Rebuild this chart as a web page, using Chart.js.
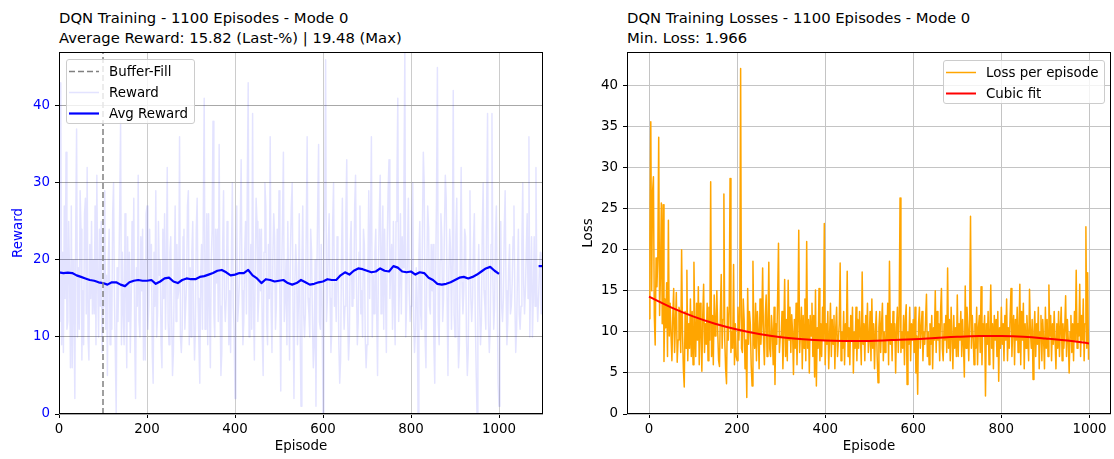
<!DOCTYPE html>
<html>
<head>
<meta charset="utf-8">
<title>DQN Training - 1100 Episodes - Mode 0</title>
<script src="https://cdn.jsdelivr.net/npm/chart.js@4.4.1/dist/chart.umd.min.js"></script>
<style>
  body { margin: 0; background: #fff; font-family: "DejaVu Sans", sans-serif; }
  #wrap { position: relative; width: 1114px; height: 459px; overflow: hidden; }
  .titulo { position: absolute; top: 8px; font-size: 14.8px; line-height: 20px; color: #000; white-space: nowrap; }
  canvas { position: absolute; top: 48px; }
  .leyenda { position: absolute; background: rgba(255,255,255,0.8); border: 1px solid #cccccc; border-radius: 3px;
             box-sizing: border-box; padding-top: 1px; font-size: 13.4px; color: #000; }
  .leyenda .fila { height: 21px; display: flex; align-items: center; white-space: nowrap; }
  .leyenda svg { margin-left: 2px; margin-right: 10px; flex: none; }
</style>
</head>
<body>
<div id="wrap">
  <div class="titulo" style="left:59px">DQN Training - 1100 Episodes - Mode 0<br>Average Reward: 15.82 (Last-%) | 19.48 (Max)</div>
  <div class="titulo" style="left:627px">DQN Training Losses - 1100 Episodes - Mode 0<br>Min. Loss: 1.966</div>
  <canvas id="graficoRecompensa" width="557" height="411" style="left:0"></canvas>
  <canvas id="graficoPerdida" width="557" height="411" style="left:557px"></canvas>
  <div id="leyendaRecompensa" class="leyenda" style="left:66px; top:59px; width:129px; height:65px"></div>
  <div id="leyendaPerdida" class="leyenda" style="left:943px; top:60px; width:162px; height:44px"></div>
</div>
<script>
// Reward per episode, one value every 2 episodes (0 .. 1098), one row = 100 episodes
const REWARD_STEP = 2;
const rewards = [
  26, 12, 43, 9, 21, 8, 27, 15, 34, 11, 12, 25, 18, 6, 27, 6, 20, 13, 2, 24, 37, 10, 19, 11, 29, 24, 7, 16, 9, 26, 28, 13, 32, 10, 7, 22, 15, 25, 13, 20, 13, 27, 9, 31, 17, 10, 24, 14, 25, 8,
  14, 22, 29, 11, 18, 5, 20, 24, 9, 17, 11, 26, 30, 15, 8, 0, 19, 12, 18, 27, 38, 9, 21, 13, 9, 26, 16, 6, 23, 12, 21, 8, 14, 25, 17, 28, 10, 2, 19, 14, 31, 12, 10, 23, 16, 24, 7, 20, 7, 26,
  27, 11, 14, 24, 17, 22, 8, 4, 21, 14, 29, 10, 13, 25, 18, 20, 9, 6, 24, 15, 26, 11, 19, 32, 12, 9, 21, 23, 13, 5, 8, 18, 27, 12, 22, 15, 16, 36, 10, 8, 11, 23, 24, 11, 14, 17, 27, 29, 9, 19,
  10, 21, 25, 13, 7, 11, 24, 28, 15, 9, 4, 18, 22, 11, 26, 41, 11, 16, 26, 9, 26, 14, 6, 20, 24, 38, 13, 10, 24, 17, 24, 12, 35, 14, 5, 8, 22, 29, 15, 12, 15, 25, 22, 9, 16, 8, 21, 30, 14, 11,
  2, 19, 27, 12, 14, 17, 25, 33, 16, 9, 12, 21, 25, 13, 30, 43, 10, 17, 22, 11, 39, 14, 7, 19, 28, 25, 12, 15, 24, 16, 24, 10, 5, 21, 30, 27, 12, 9, 22, 15, 36, 14, 8, 20, 26, 23, 11, 14, 24, 17,
  29, 14, 3, 18, 25, 34, 12, 15, 20, 9, 25, 16, 7, 21, 27, 30, 13, 2, 17, 22, 19, 9, 14, 26, 11, 1, 19, 27, 13, 10, 13, 24, 36, 15, 13, 10, 24, 21, 12, 6, 9, 20, 1, 18, 27, 35, 12, 11, 22, 14,
  0, 21, 28, 46, 12, 15, 22, 26, 15, 8, 11, 25, 30, 14, 17, 12, 23, 20, 9, 4, 7, 20, 28, 16, 11, 14, 26, 33, 13, 7, 10, 22, 25, 14, 18, 15, 27, 31, 17, 9, 12, 21, 27, 13, 16, 10, 24, 22, 10, 6,
  9, 19, 29, 15, 24, 36, 10, 18, 13, 21, 24, 13, 5, 19, 26, 31, 13, 20, 27, 11, 24, 16, 8, 22, 29, 33, 15, 19, 22, 11, 25, 14, 9, 25, 30, 41, 12, 17, 26, 13, 23, 19, 30, 47, 10, 14, 21, 28, 16, 12,
  14, 24, 30, 12, 8, 11, 19, 15, 0, 21, 25, 13, 11, 24, 34, 30, 10, 6, 19, 27, 24, 14, 13, 22, 16, 22, 9, 4, 18, 28, 45, 12, 9, 20, 26, 23, 12, 15, 24, 31, 28, 15, 5, 18, 24, 21, 11, 20, 42, 13,
  10, 23, 28, 14, 6, 9, 21, 32, 17, 13, 16, 24, 23, 10, 5, 8, 20, 29, 15, 12, 15, 22, 26, 13, 6, 0, 17, 22, 14, 9, 12, 24, 30, 16, 14, 11, 27, 39, 12, 8, 11, 22, 39, 18, 11, 14, 23, 27, 15, 4,
  1, 18, 25, 14, 12, 15, 24, 29, 16, 9, 12, 19, 22, 13, 14, 17, 23, 27, 15, 8, 11, 18, 24, 13, 11, 14, 22, 30, 17, 13, 16, 21, 26, 15, 36, 10, 17, 23, 10, 15, 23, 14, 32, 16, 12, 15, 19, 21, 13, 21
];

// Moving average reward, one value every 10 episodes (0 .. 1000)
const AVG_STEP = 10;
const avgRewards = [
  18.4, 18.3, 18.35, 18.3, 18.0, 17.8, 17.6, 17.4, 17.3, 17.1,
  17.0, 16.8, 17.1, 17.1, 16.8, 16.6, 17.1, 17.3, 17.4, 17.3,
  17.3, 17.4, 16.9, 17.2, 17.6, 17.7, 17.2, 17.0, 17.4, 17.6,
  17.5, 17.5, 17.8, 17.9, 18.1, 18.3, 18.6, 18.7, 18.4, 18.0,
  18.1, 18.3, 18.3, 18.7, 18.0, 17.6, 17.0, 17.5, 17.4, 17.2,
  17.3, 17.4, 17.0, 16.8, 17.0, 17.4, 17.1, 16.8, 16.9, 17.1,
  17.2, 17.5, 17.4, 17.4, 18.0, 18.4, 18.1, 18.6, 18.9, 18.8,
  18.6, 18.4, 18.5, 18.9, 18.6, 18.5, 19.2, 19.0, 18.5, 18.4,
  18.5, 18.1, 18.4, 18.3, 17.7, 17.4, 16.9, 16.8, 16.9, 17.1,
  17.4, 17.7, 17.8, 17.6, 17.8, 18.1, 18.5, 18.9, 19.1, 18.6,
  18.2
];
// short piece of the average at the very end of the run
const avgTailEpisodes = [1090, 1099];
const avgTail = [19.2, 19.2];

const bufferFillEpisode = 100;

// Loss per episode, one value every 2 episodes (0 .. 998), one row = 100 episodes
const LOSS_STEP = 2;
const losses = [
  11.6, 21.4, 35.6, 15.0, 27.0, 28.9, 12.0, 8.4, 19.0, 15.5, 19.2, 33.7, 12.0, 17.0, 25.7, 11.0, 25.5, 6.4, 14.0, 10.5,
  16.0, 7.0, 23.6, 9.5, 13.5, 9.5, 6.5, 12.0, 15.3, 7.5, 11.0, 14.8, 6.3, 9.0, 13.0, 12.5, 7.5, 20.0, 10.0, 5.5,
  3.3, 12.5, 8.0, 17.5, 6.5, 11.0, 8.0, 14.0, 7.0, 12.5,
  6.0, 18.5, 10.5, 7.0, 13.5, 9.0, 15.5, 6.0, 13.5, 10.0, 5.2, 12.0, 15.8, 7.5, 11.0, 8.5, 13.5, 6.5, 13.0, 9.0,
  28.3, 7.0, 12.0, 6.0, 14.5, 9.5, 11.0, 15.0, 10.0, 6.5, 5.8, 12.5, 17.0, 8.0, 11.5, 26.8, 9.0, 5.5, 3.7, 13.0,
  9.0, 12.5, 28.7, 7.5, 10.0, 8.0, 18.2, 6.0, 11.0, 7.0,
  6.5, 13.0, 9.0, 12.0, 42.1, 8.0, 7.5, 14.0, 11.5, 5.5, 9.0, 2.0, 15.3, 8.5, 12.5, 11.0, 6.0, 3.4, 18.6, 9.5,
  8.0, 13.5, 6.5, 12.5, 10.0, 5.5, 14.0, 8.5, 11.0, 17.8, 9.0, 6.0, 12.0, 14.5, 7.0, 10.5, 18.5, 8.0, 7.0, 12.0,
  10.0, 6.0, 13.0, 3.6, 11.0, 8.5, 14.0, 20.8, 7.5, 9.5,
  9.5, 12.5, 5.5, 10.0, 16.4, 7.0, 11.5, 6.5, 16.3, 9.0, 13.0, 7.5, 12.1, 10.0, 4.8, 11.5, 8.0, 13.5, 6.0, 11.0,
  22.4, 7.5, 10.0, 13.0, 5.5, 12.0, 8.0, 14.0, 6.5, 21.0, 8.0, 11.5, 5.0, 12.0, 9.5, 13.5, 7.0, 12.0, 4.5, 15.1,
  3.4, 10.5, 8.0, 15.3, 6.5, 11.0, 7.0, 13.0, 9.0, 23.2,
  6.0, 11.0, 8.5, 12.5, 5.5, 9.5, 13.5, 7.0, 11.5, 8.5, 12.0, 5.5, 10.5, 13.0, 7.0, 9.0, 11.0, 18.4, 6.5, 10.0,
  8.0, 12.5, 6.0, 11.0, 9.0, 17.4, 7.0, 10.5, 6.0, 12.0, 9.0, 13.0, 5.0, 10.0, 8.0, 13.0, 6.5, 11.5, 8.0, 12.5,
  9.5, 6.0, 17.3, 8.5, 11.0, 6.5, 12.0, 9.0, 13.5, 7.5,
  9.0, 12.5, 6.5, 14.0, 8.0, 11.0, 5.5, 10.0, 12.5, 7.0, 3.8, 10.5, 12.5, 7.5, 11.0, 13.5, 6.5, 10.0, 7.5, 12.0,
  9.0, 13.5, 6.0, 18.6, 8.5, 11.0, 6.5, 12.5, 9.0, 11.0, 5.0, 10.5, 13.0, 7.5, 12.0, 26.3, 7.5, 10.0, 8.0, 12.0,
  6.0, 11.5, 13.3, 3.6, 10.0, 8.5, 13.0, 6.5, 11.0, 9.0,
  11.5, 7.5, 13.0, 5.0, 9.5, 2.4, 11.0, 13.0, 8.0, 10.5, 12.5, 6.5, 10.0, 8.5, 11.5, 14.6, 7.0, 10.0, 6.0, 11.0,
  8.5, 12.0, 5.5, 10.5, 9.0, 15.0, 7.5, 12.5, 9.0, 11.0, 6.5, 12.5, 15.3, 8.0, 6.5, 11.0, 9.0, 12.0, 7.5, 17.8,
  8.0, 11.5, 6.5, 13.0, 9.5, 5.5, 12.0, 8.0, 10.5, 7.0,
  14.5, 7.0, 11.0, 9.0, 12.5, 7.0, 11.5, 8.5, 4.5, 15.6, 8.0, 13.0, 10.5, 6.5, 11.5, 24.1, 8.0, 12.0, 9.5, 6.0,
  11.0, 8.0, 13.0, 6.0, 10.5, 12.0, 7.5, 15.5, 6.0, 11.0, 9.5, 12.0, 2.2, 11.0, 8.5, 12.5, 6.0, 10.0, 15.7, 8.0,
  11.0, 5.5, 12.0, 9.0, 11.5, 7.0, 12.5, 4.0, 10.5, 8.0,
  13.0, 8.5, 11.0, 6.5, 12.0, 9.0, 14.0, 6.5, 10.5, 8.0, 12.0, 15.3, 7.0, 10.5, 12.0, 6.0, 11.5, 9.0, 13.0, 7.5,
  10.0, 15.8, 6.0, 12.5, 9.0, 13.5, 5.5, 11.0, 8.0, 12.0, 9.5, 6.5, 15.2, 10.0, 8.0, 11.5, 4.2, 10.0, 12.5, 7.0,
  11.0, 8.5, 13.0, 5.5, 10.0, 12.0, 6.5, 11.5, 9.0, 5.5,
  13.0, 8.0, 11.5, 7.0, 15.7, 9.5, 12.0, 6.5, 11.0, 8.5, 12.5, 9.0, 5.5, 11.0, 8.0, 12.5, 7.0, 10.5, 13.0, 6.5,
  11.0, 8.0, 10.5, 14.4, 7.0, 11.5, 9.0, 5.0, 10.0, 12.0, 7.5, 11.0, 6.5, 12.5, 9.0, 17.5, 8.0, 11.0, 9.5, 15.8,
  7.0, 12.0, 9.0, 14.0, 6.5, 11.0, 22.8, 8.0, 17.2, 6.6
];

// Cubic fit of the loss, read every 50 episodes
const fitEpisodes = [0, 50, 100, 150, 200, 250, 300, 350, 400, 450, 500, 550, 600, 650, 700, 750, 800, 850, 900, 950, 999];
const cubicFit = [14.3, 13.0, 11.9, 11.0, 10.3, 9.75, 9.35, 9.1, 8.95, 8.9, 8.9, 9.0, 9.1, 9.25, 9.4, 9.5, 9.5, 9.4, 9.2, 8.95, 8.6];

// Axis limits and ticks
const rewardX = { min: 0, max: 1100, step: 200 };
const rewardY = { min: 0, max: 47, step: 10 };
const lossX = { min: -50, max: 1049, step: 200 };
const lossY = { min: 0, max: 44.1, step: 5 };

Chart.defaults.font.family = '"DejaVu Sans", sans-serif';
Chart.defaults.font.size = 13.4;
Chart.defaults.color = '#000';

function puntos(xs, ys) {
  return ys.map((y, i) => ({ x: xs[i], y: y }));
}
function puntosPaso(step, ys) {
  return ys.map((y, i) => ({ x: i * step, y: y }));
}

// black frame around the plot area, like matplotlib spines
const marcoEjes = {
  id: 'marcoEjes',
  afterDraw(chart) {
    const { ctx, chartArea: a } = chart;
    ctx.save();
    ctx.strokeStyle = '#000';
    ctx.lineWidth = 1;
    ctx.strokeRect(Math.round(a.left) + 0.5, Math.round(a.top) + 0.5,
      Math.round(a.right - a.left) - 1, Math.round(a.bottom - a.top) - 1);
    ctx.restore();
  }
};

function ejeX(lim, gridColor) {
  return {
    type: 'linear', min: lim.min, max: lim.max,
    afterFit(scale) { scale.height = 45; scale.paddingLeft = 0; scale.paddingRight = 0; },
    border: { display: false },
    grid: { color: gridColor, tickColor: '#000', tickLength: 4 },
    ticks: { stepSize: lim.step, includeBounds: false, padding: 3, maxRotation: 0, callback: v => String(v) },
    title: { display: true, text: 'Episode', padding: { top: 2, bottom: 4 } }
  };
}

function ejeY(lim, width, titulo, color, gridColor, titlePad) {
  return {
    type: 'linear', min: lim.min, max: lim.max,
    afterFit(scale) { scale.width = width; scale.paddingTop = 0; scale.paddingBottom = 0; },
    border: { display: false },
    grid: { color: gridColor, tickColor: '#000', tickLength: 4 },
    ticks: { stepSize: lim.step, includeBounds: false, padding: 5, color: color, callback: v => String(v) },
    title: { display: true, text: titulo, color: color, padding: { top: titlePad, bottom: 0 } }
  };
}

const opcionesBase = {
  responsive: false,
  animation: false,
  devicePixelRatio: 1,
  elements: { point: { radius: 0 }, line: { tension: 0, fill: false, borderJoinStyle: 'round' } },
  plugins: { legend: { display: false }, tooltip: { enabled: false } }
};

const graficoRecompensa = new Chart(document.getElementById('graficoRecompensa'), {
  type: 'line',
  data: {
    datasets: [
      { label: 'Buffer-Fill', data: puntos([bufferFillEpisode, bufferFillEpisode], [rewardY.min, rewardY.max]),
        borderColor: '#808080', borderWidth: 1.5, borderDash: [6, 3], order: 0 },
      { label: 'Reward', data: puntosPaso(REWARD_STEP, rewards),
        borderColor: 'rgba(0,0,255,0.11)', borderWidth: 1.5, order: 2 },
      { label: 'Avg Reward', data: puntosPaso(AVG_STEP, avgRewards),
        borderColor: '#0000ff', borderWidth: 2.2, order: 1 },
      { label: '', data: puntos(avgTailEpisodes, avgTail),
        borderColor: '#0000ff', borderWidth: 2.2, order: 1 }
    ]
  },
  options: {
    ...opcionesBase,
    layout: { padding: { left: 0, right: 14, top: 4, bottom: 0 } },
    scales: {
      x: ejeX(rewardX, '#cccccc'),
      y: ejeY(rewardY, 59, 'Reward', '#0000ff', '#a8a8a8', 10)
    }
  },
  plugins: [marcoEjes]
});

const graficoPerdida = new Chart(document.getElementById('graficoPerdida'), {
  type: 'line',
  data: {
    datasets: [
      { label: 'Loss per episode', data: puntosPaso(LOSS_STEP, losses),
        borderColor: '#ffa500', borderWidth: 1.5, order: 1 },
      { label: 'Cubic fit', data: puntos(fitEpisodes, cubicFit),
        borderColor: '#ff0000', borderWidth: 2, tension: 0.4, order: 0 }
    ]
  },
  options: {
    ...opcionesBase,
    layout: { padding: { left: 0, right: 3, top: 4, bottom: 0 } },
    scales: {
      x: ejeX(lossX, '#c4c4c4'),
      y: ejeY(lossY, 70, 'Loss', '#000', '#c4c4c4', 23)
    }
  },
  plugins: [marcoEjes]
});

// legends drawn as boxes inside the plot area
function crearLeyenda(chart, idDiv, indices) {
  const div = document.getElementById(idDiv);
  indices.forEach(i => {
    const ds = chart.data.datasets[i];
    const dash = ds.borderDash ? `stroke-dasharray="${ds.borderDash.join(' ')}"` : '';
    const fila = document.createElement('div');
    fila.className = 'fila';
    fila.innerHTML = `<svg width="30" height="21"><line x1="0" y1="10.5" x2="30" y2="10.5" stroke="${ds.borderColor}" stroke-width="${ds.borderWidth}" ${dash}/></svg><span>${ds.label}</span>`;
    div.appendChild(fila);
  });
}
crearLeyenda(graficoRecompensa, 'leyendaRecompensa', [0, 1, 2]);
crearLeyenda(graficoPerdida, 'leyendaPerdida', [0, 1]);
</script>
</body>
</html>
